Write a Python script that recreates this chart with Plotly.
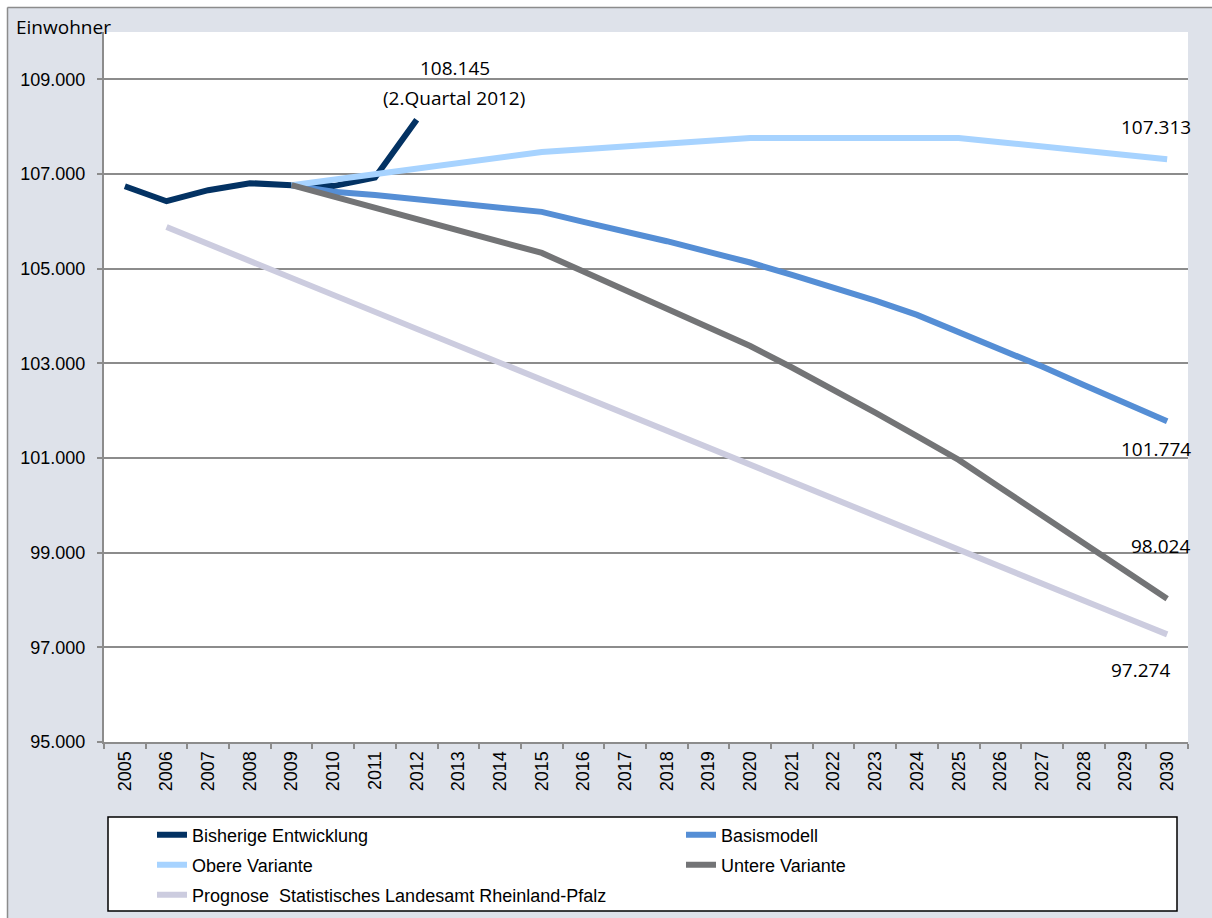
import plotly.graph_objects as go

years = [str(y) for y in range(2005, 2031)]

bisherige_years = years[0:8]          # 2005-2012
bisherige = [106742, 106425, 106658, 106806, 106764, 106745, 106924, 108145]

proj_years = years[4:]                # 2009-2030
basismodell = [106764, 106626, 106556, 106471, 106400, 106316, 106200, 105990,
               105790, 105580, 105353, 105130, 104867, 104607, 104324, 104023,
               103670, 103305, 102931, 102544, 102157, 101774]
obere = [106764, 106880, 107000, 107115, 107230, 107350, 107465, 107524,
         107583, 107642, 107701, 107760, 107760, 107760, 107760, 107760,
         107760, 107671, 107582, 107492, 107403, 107313]
untere = [106764, 106525, 106287, 106048, 105810, 105571, 105332, 104939,
          104546, 104153, 103760, 103367, 102912, 102442, 101957, 101462,
          100960, 100373, 99786, 99198, 98611, 98024]

prognose_years = years[1:]            # 2006-2030
prognose = [105880, 105520, 105160, 104800, 104440, 104085, 103725, 103365,
            103005, 102645, 102285, 101925, 101565, 101205, 100845, 100490,
            100130, 99770, 99410, 99050, 98695, 98340, 97985, 97630, 97274]

y_ticks = [95000, 97000, 99000, 101000, 103000, 105000, 107000, 109000]

names = ["Bisherige Entwicklung", "Basismodell", "Obere Variante",
         "Untere Variante", "Prognose  Statistisches Landesamt Rheinland-Pfalz"]
colors = ["#033263", "#558ed5", "#a7d3ff", "#737476", "#ccccdf"]
legend_ids = ["legend", "legend2", "legend3", "legend4", "legend5"]


def fmt(v):
    return f"{v:,}".replace(",", ".")


W, H = 1212, 918
L, R, T, B = 104, 1188, 32, 742


def px(x):
    return (x - L) / (R - L)


def py(y):
    return (B - y) / (B - T)


fig = go.Figure()
series = [(bisherige_years, bisherige), (proj_years, basismodell), (proj_years, obere),
          (proj_years, untere), (prognose_years, prognose)]
for (xs, ys), name, col, lg in zip(series, names, colors, legend_ids):
    fig.add_trace(go.Scatter(x=xs, y=ys, name=name, mode="lines", legend=lg,
                             line=dict(color=col, width=6)))

i2012 = years.index("2012")
i2030 = years.index("2030")

ann_font = dict(family="Open Sans", size=19, color="#000000")
annotations = [
    dict(x=i2012, y=bisherige[-1], text=fmt(bisherige[-1]), xshift=38, yshift=52),
    dict(x=i2012, y=bisherige[-1], text="(2.Quartal 2012)", xshift=37, yshift=22),
    dict(x=i2030, y=obere[-1], text=fmt(obere[-1]), xshift=-11, yshift=32),
    dict(x=i2030, y=basismodell[-1], text=fmt(basismodell[-1]), xshift=-11, yshift=-28),
    dict(x=i2030, y=untere[-1], text=fmt(untere[-1]), xshift=-7, yshift=53),
    dict(x=i2030, y=prognose[-1], text=fmt(prognose[-1]), xshift=-27, yshift=-36),
]
for a in annotations:
    a.update(xref="x", yref="y", showarrow=False, font=ann_font,
             xanchor="center", yanchor="middle")

annotations.append(dict(xref="paper", yref="paper", x=px(14), y=py(27),
                        text="Einwohner", showarrow=False, xanchor="left",
                        yanchor="middle", font=ann_font))

shapes = [
    dict(type="rect", xref="paper", yref="paper", x0=px(0), x1=px(W), y0=py(0), y1=py(7),
         fillcolor="white", line=dict(width=0), layer="below"),
    dict(type="rect", xref="paper", yref="paper", x0=px(0), x1=px(7), y0=py(H), y1=py(0),
         fillcolor="white", line=dict(width=0), layer="below"),
    dict(type="line", xref="paper", yref="paper", x0=px(7.5), x1=px(W), y0=py(7.5), y1=py(7.5),
         line=dict(color="#8c8c8c", width=1.5), layer="below"),
    dict(type="line", xref="paper", yref="paper", x0=px(7.5), x1=px(7.5), y0=py(7.5), y1=py(H),
         line=dict(color="#8c8c8c", width=1.5), layer="below"),
    dict(type="rect", xref="paper", yref="paper", x0=px(108), x1=px(1177), y0=py(911), y1=py(817),
         fillcolor="white", line=dict(color="#000000", width=1.5), layer="below"),
]

leg_font = dict(family="Arial, Liberation Sans", size=18, color="#000000")


def leg(xleft, ycenter):
    return dict(orientation="h", x=px(xleft), y=py(ycenter), xanchor="left", yanchor="middle",
                bgcolor="rgba(0,0,0,0)", borderwidth=0, font=leg_font)


fig.update_layout(
    width=W, height=H,
    margin=dict(l=L, r=W - R, t=T, b=H - B, pad=0, autoexpand=False),
    paper_bgcolor="#dee2ea",
    plot_bgcolor="#ffffff",
    separators=",.",
    showlegend=True,
    legend=leg(152, 835), legend2=leg(681, 835),
    legend3=leg(152, 865), legend4=leg(681, 865),
    legend5=leg(152, 895),
    annotations=annotations,
    shapes=shapes,
    xaxis=dict(type="category", categoryorder="array", categoryarray=years,
               range=[-0.5, 25.5], tickson="boundaries", ticks="outside", ticklen=5,
               tickwidth=1.5, tickcolor="#8c8c8c", showgrid=False, showline=True,
               linecolor="#8c8c8c", linewidth=2, tickangle=-90, zeroline=False,
               tickfont=dict(family="Arial, Liberation Sans", size=18, color="#000000")),
    yaxis=dict(range=[95000, 110000], tickvals=y_ticks, tickformat=",d",
               ticks="outside", ticklen=5, tickwidth=1.5, tickcolor="#8c8c8c",
               showgrid=True, gridcolor="#8c8c8c", gridwidth=1.5, showline=True,
               linecolor="#8c8c8c", linewidth=2, zeroline=False, ticklabelstandoff=8,
               tickfont=dict(family="Arial, Liberation Sans", size=18, color="#000000")),
)

fig.write_html("out.html")
